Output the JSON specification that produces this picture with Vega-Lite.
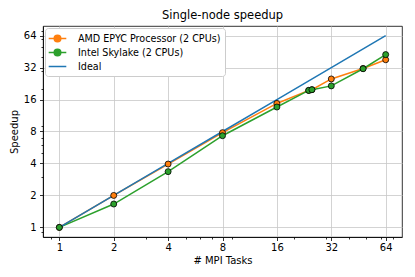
{
  "$schema": "https://vega.github.io/schema/vega-lite/v6.json",
  "width": 359,
  "height": 211,
  "padding": {"left": 9, "top": 9, "right": 13, "bottom": 5},
  "title": {"text": "Single-node speedup", "fontSize": 11.5, "fontWeight": "normal", "font": "DejaVu Sans", "color": "#000", "offset": 5},
  "config": {
    "font": "DejaVu Sans",
    "view": {"stroke": "#000", "strokeWidth": 0.8},
    "axis": {"labelFont": "DejaVu Sans", "titleFont": "DejaVu Sans", "labelFontSize": 10, "titleFontSize": 10, "titleFontWeight": "normal", "labelColor": "#000", "titleColor": "#000", "domainColor": "#000", "tickColor": "#000", "gridColor": "#c8c8c8", "gridWidth": 0.8, "domainWidth": 0.8, "tickWidth": 0.8}
  },
  "data": {"values": [
    {"tasks": 1, "speedup": 1, "series": "AMD EPYC Processor (2 CPUs)"},
    {"tasks": 2, "speedup": 2, "series": "AMD EPYC Processor (2 CPUs)"},
    {"tasks": 4, "speedup": 3.95, "series": "AMD EPYC Processor (2 CPUs)"},
    {"tasks": 8, "speedup": 7.8, "series": "AMD EPYC Processor (2 CPUs)"},
    {"tasks": 16, "speedup": 14.7, "series": "AMD EPYC Processor (2 CPUs)"},
    {"tasks": 24, "speedup": 19.5, "series": "AMD EPYC Processor (2 CPUs)"},
    {"tasks": 25, "speedup": 19.8, "series": "AMD EPYC Processor (2 CPUs)"},
    {"tasks": 32, "speedup": 25, "series": "AMD EPYC Processor (2 CPUs)"},
    {"tasks": 48, "speedup": 31.4, "series": "AMD EPYC Processor (2 CPUs)"},
    {"tasks": 64, "speedup": 37.9, "series": "AMD EPYC Processor (2 CPUs)"},
    {"tasks": 1, "speedup": 1, "series": "Intel Skylake (2 CPUs)"},
    {"tasks": 2, "speedup": 1.66, "series": "Intel Skylake (2 CPUs)"},
    {"tasks": 4, "speedup": 3.35, "series": "Intel Skylake (2 CPUs)"},
    {"tasks": 8, "speedup": 7.3, "series": "Intel Skylake (2 CPUs)"},
    {"tasks": 16, "speedup": 13.6, "series": "Intel Skylake (2 CPUs)"},
    {"tasks": 24, "speedup": 19.5, "series": "Intel Skylake (2 CPUs)"},
    {"tasks": 25, "speedup": 19.8, "series": "Intel Skylake (2 CPUs)"},
    {"tasks": 32, "speedup": 21.5, "series": "Intel Skylake (2 CPUs)"},
    {"tasks": 48, "speedup": 31.2, "series": "Intel Skylake (2 CPUs)"},
    {"tasks": 64, "speedup": 42.4, "series": "Intel Skylake (2 CPUs)"},
    {"tasks": 1, "speedup": 1, "series": "Ideal"},
    {"tasks": 2, "speedup": 2, "series": "Ideal"},
    {"tasks": 4, "speedup": 4, "series": "Ideal"},
    {"tasks": 8, "speedup": 8, "series": "Ideal"},
    {"tasks": 16, "speedup": 16, "series": "Ideal"},
    {"tasks": 32, "speedup": 32, "series": "Ideal"},
    {"tasks": 64, "speedup": 64, "series": "Ideal"}
  ]},
  "layer": [
    {
      "mark": {"type": "line", "strokeWidth": 1.5},
      "encoding": {
        "x": {"field": "tasks", "type": "quantitative", "scale": {"type": "log", "base": 2, "domain": [0.812, 78.8], "nice": false, "zero": false},
              "axis": {"title": "# MPI Tasks", "values": [0.9, 1, 2, 3, 4, 5, 6, 7, 8, 9, 16, 20, 30, 32, 40, 50, 60, 64, 70],
                       "labelExpr": "indexof([1,2,4,8,16,32,64], datum.value) >= 0 ? datum.value : ''",
                       "grid": true, "gridOpacity": {"condition": {"test": "indexof([1,2,4,8,16,32,64], datum.value) >= 0", "value": 1}, "value": 0},
                       "tickSize": {"condition": {"test": "indexof([1,2,4,8,16,32,64], datum.value) >= 0", "value": 3.5}, "value": 2},
                       "labelOverlap": false, "labelPadding": 2, "titlePadding": 3}},
        "y": {"field": "speedup", "type": "quantitative", "scale": {"type": "log", "base": 2, "domain": [0.812, 78.8], "nice": false, "zero": false},
              "axis": {"title": "Speedup", "values": [0.9, 1, 2, 3, 4, 5, 6, 7, 8, 9, 16, 20, 30, 32, 40, 50, 60, 64, 70],
                       "labelExpr": "indexof([1,2,4,8,16,32,64], datum.value) >= 0 ? datum.value : ''",
                       "grid": true, "gridOpacity": {"condition": {"test": "indexof([1,2,4,8,16,32,64], datum.value) >= 0", "value": 1}, "value": 0},
                       "tickSize": {"condition": {"test": "indexof([1,2,4,8,16,32,64], datum.value) >= 0", "value": 3.5}, "value": 2},
                       "labelOverlap": false, "labelPadding": 3.5, "titlePadding": 4}},
        "color": {"field": "series", "type": "nominal", "scale": {"domain": ["AMD EPYC Processor (2 CPUs)", "Intel Skylake (2 CPUs)", "Ideal"], "range": ["#ff7f0e", "#2ca02c", "#1f77b4"]},
                  "legend": {"title": null, "orient": "top-left", "offset": 2, "fillColor": "#ffffff", "strokeColor": "#cccccc", "cornerRadius": 3, "padding": 4,
                             "labelFontSize": 9.6, "labelFont": "DejaVu Sans", "labelColor": "#000", "symbolSize": 121, "symbolStrokeWidth": 1.5, "symbolOffset": 2, "labelOffset": 14, "rowPadding": 1,
                             "encode": {"symbols": {"update": {
                               "stroke": {"scale": "color", "field": "value"},
                               "fill": {"scale": "color", "field": "value"},
                               "opacity": {"value": 1},
                               "shape": {"signal": "datum.value === 'Ideal' ? 'M-1.6,0H1.6' : 'M-1.6,0H1.6M0.6,0A0.6,0.6,0,1,1,-0.6,0A0.6,0.6,0,1,1,0.6,0Z'"}}}}}},
        "order": {"field": "tasks", "type": "quantitative"}
      }
    },
    {
      "transform": [{"filter": "datum.series !== 'Ideal'"}],
      "mark": {"type": "circle", "size": 36, "stroke": "#000", "strokeWidth": 0.8, "opacity": 1},
      "encoding": {
        "x": {"field": "tasks", "type": "quantitative"},
        "y": {"field": "speedup", "type": "quantitative"},
        "color": {"field": "series", "type": "nominal"}
      }
    }
  ]
}
